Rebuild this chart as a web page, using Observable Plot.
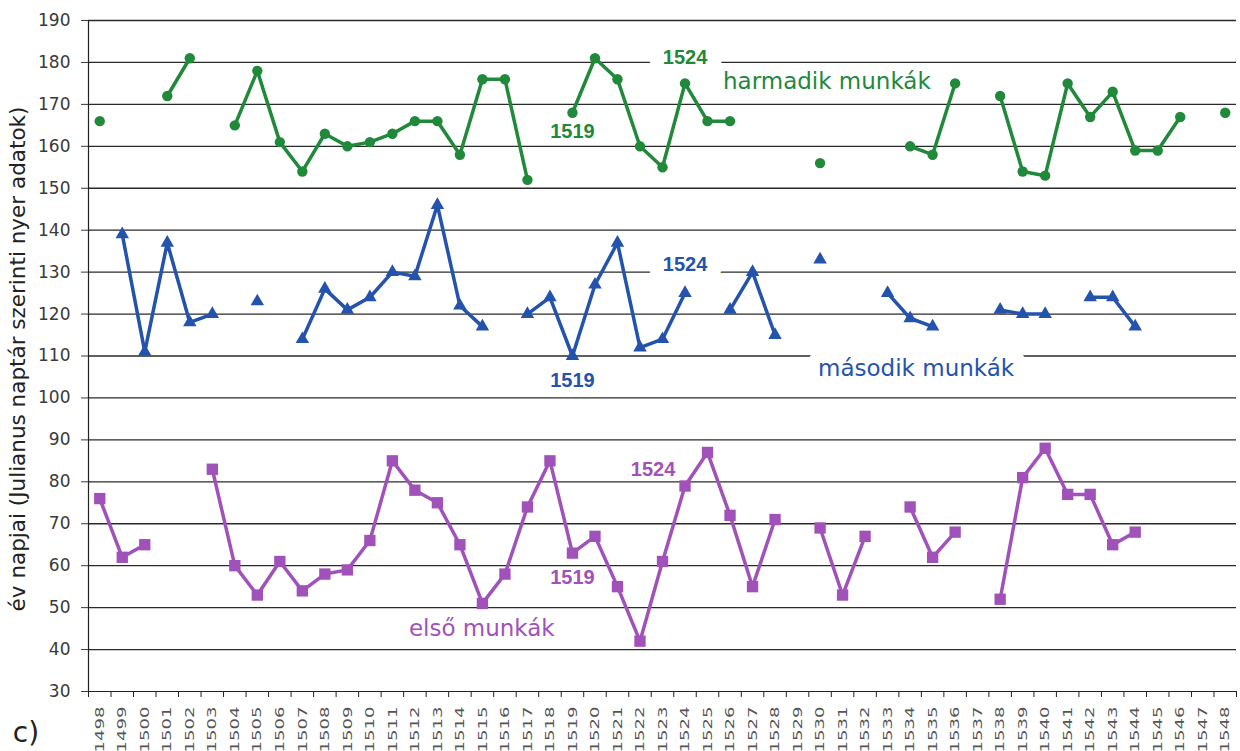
<!DOCTYPE html>
<html>
<head>
<meta charset="utf-8">
<script src="https://cdn.jsdelivr.net/npm/d3@7"></script>
<script src="https://cdn.jsdelivr.net/npm/@observablehq/plot@0.6"></script>
<style>
  html, body { margin: 0; padding: 0; background: #fff; }
  #chart { width: 1240px; height: 751px; }
</style>
</head>
<body>
<div id="chart"></div>
<script>
// ---- categories (years) ----
const years = [1498,1499,1500,1501,1502,1503,1504,1505,1506,1507,1508,1509,1510,1511,1512,1513,1514,1515,1516,1517,1518,1519,1520,1521,1522,1523,1524,1525,1526,1527,1528,1529,1530,1531,1532,1533,1534,1535,1536,1537,1538,1539,1540,1541,1542,1543,1544,1545,1546,1547,1548];

// ---- series values (day of year, Julian calendar) ----
const harmadik = [166,null,null,172,181,null,165,178,161,154,163,160,161,163,166,166,158,176,176,152,null,168,181,176,160,155,175,166,166,null,null,null,156,null,null,null,160,158,175,null,172,154,153,175,167,173,159,159,167,null,168];
const masodik  = [null,139,111,137,118,120,null,123,null,114,126,121,124,130,129,146,122,117,null,120,124,110,127,137,112,114,125,null,121,130,115,null,133,null,null,125,119,117,null,null,121,120,120,null,124,124,117,null,null,null,null];
const elso     = [76,62,65,null,null,83,60,53,61,54,58,59,66,85,78,75,65,51,58,74,85,63,67,55,42,61,79,87,72,55,71,null,69,53,67,null,74,62,68,null,52,81,88,77,77,65,68,null,null,null,null];

// ---- axis ticks / texts ----
const yTicks = [30,40,50,60,70,80,90,100,110,120,130,140,150,160,170,180,190];
const yLabel = "év napjai (Julianus naptár szerinti nyer adatok)";
const seriesNames = ["harmadik munkák", "második munkák", "első munkák"];
const markYears = ["1519", "1524"];

const green = "#20893a", blue = "#2453ae", purple = "#a152ba";

const rows = arr => years.map((yr, i) => ({year: yr, v: arr[i]}));
const G = rows(harmadik), B = rows(masodik), P = rows(elso);

const xDomain = [years[0] - 0.5, years[years.length - 1] + 0.5];
const boundaries = years.map(y => y - 0.5).concat([xDomain[1]]);

const boldFont = {fontFamily: "Liberation Sans, Arial, sans-serif", fontWeight: "bold", fontSize: 20};
const nameFont = {fontFamily: "DejaVu Sans, sans-serif", fontSize: 23};

const chart = Plot.plot({
  width: 1240,
  height: 751,
  marginLeft: 88,
  marginRight: 4,
  marginTop: 20,
  marginBottom: 60,
  style: {fontFamily: "DejaVu Sans, sans-serif", background: "#fff", overflow: "visible"},
  x: {type: "linear", domain: xDomain},
  y: {domain: [30, 190]},
  marks: [
    Plot.gridY(yTicks.slice(1), {stroke: "#2a2a2a", strokeOpacity: 1, strokeWidth: 1.3}),
    // white backings that interrupt the gridlines behind some labels
    Plot.text([markYears[1]], {x: 1524, y: 181.2, text: d => d, ...boldFont, fill: "white", stroke: "white", strokeWidth: 28}),
    Plot.text([markYears[1]], {x: 1524, y: 131.8, text: d => d, ...boldFont, fill: "white", stroke: "white", strokeWidth: 28}),
    Plot.text([seriesNames[1]], {x: 1530, dx: -2, y: 107.1, text: d => d, textAnchor: "start", ...nameFont, fill: "white", stroke: "white", strokeWidth: 24}),
    // axes
    Plot.axisY(yTicks, {tickSize: 7, tickPadding: 11, fontSize: 17, color: "#3a3a3a", label: null}),
    Plot.ruleX([xDomain[0]], {stroke: "#222", strokeWidth: 1.2}),
    Plot.ruleY([30], {stroke: "#222", strokeWidth: 1.2}),
    Plot.axisX(boundaries, {tickSize: 6, tickFormat: () => "", color: "#222", label: null}),
    Plot.axisX(years, {tickSize: 0, tickPadding: 15, tickRotate: -90, fontSize: 13, tickFormat: d => String(d), color: "#555", label: null}),
    // y label
    Plot.text([yLabel], {frameAnchor: "left", textAnchor: "middle", rotate: -90, dx: -70, dy: 3, text: d => d, fontSize: 21.5, fill: "#222"}),
    // series
    Plot.line(G, {x: "year", y: "v", stroke: green, strokeWidth: 3.5}),
    Plot.dot(G, {x: "year", y: "v", r: 5.2, fill: green, symbol: "circle"}),
    Plot.line(B, {x: "year", y: "v", stroke: blue, strokeWidth: 3.5}),
    Plot.dot(B, {x: "year", y: "v", r: 5, fill: blue, symbol: "triangle"}),
    Plot.line(P, {x: "year", y: "v", stroke: purple, strokeWidth: 3.5}),
    Plot.dot(P, {x: "year", y: "v", r: 6.4, fill: purple, symbol: "square"}),
    // annotations
    Plot.text([markYears[1]], {x: 1524, y: 181.2, text: d => d, ...boldFont, fill: green}),
    Plot.text([markYears[0]], {x: 1519, y: 163.5, text: d => d, ...boldFont, fill: green}),
    Plot.text([seriesNames[0]], {x: 1526, dx: -7, y: 175.5, text: d => d, textAnchor: "start", ...nameFont, fill: green}),
    Plot.text([markYears[1]], {x: 1524, y: 131.8, text: d => d, ...boldFont, fill: blue}),
    Plot.text([markYears[0]], {x: 1519, y: 104.2, text: d => d, ...boldFont, fill: blue}),
    Plot.text([seriesNames[1]], {x: 1530, dx: -2, y: 107.1, text: d => d, textAnchor: "start", ...nameFont, fill: blue}),
    Plot.text([markYears[1]], {x: 1524, dx: -32, y: 82.9, text: d => d, ...boldFont, fill: purple}),
    Plot.text([markYears[0]], {x: 1519, y: 57.2, text: d => d, ...boldFont, fill: purple}),
    Plot.text([seriesNames[2]], {x: 1512, dx: -6, y: 45.1, text: d => d, textAnchor: "start", ...nameFont, fill: purple})
  ]
});

// panel tag
d3.select(chart).append("text")
  .attr("x", 26).attr("y", 742)
  .attr("font-family", "DejaVu Sans, sans-serif")
  .attr("font-size", 28).attr("fill", "#222")
  .text("c)");

document.getElementById("chart").appendChild(chart);

// stretch the rotated year tick labels along their length (not the bold annotations)
d3.select(chart).selectAll("text").each(function() {
  if (!/^1[45]\d\d$/.test(this.textContent.trim())) return;
  const cs = getComputedStyle(this);
  if (parseInt(cs.fontWeight, 10) >= 600) return;
  this.setAttribute("textLength", 46);
  this.setAttribute("lengthAdjust", "spacingAndGlyphs");
});
</script>
</body>
</html>
